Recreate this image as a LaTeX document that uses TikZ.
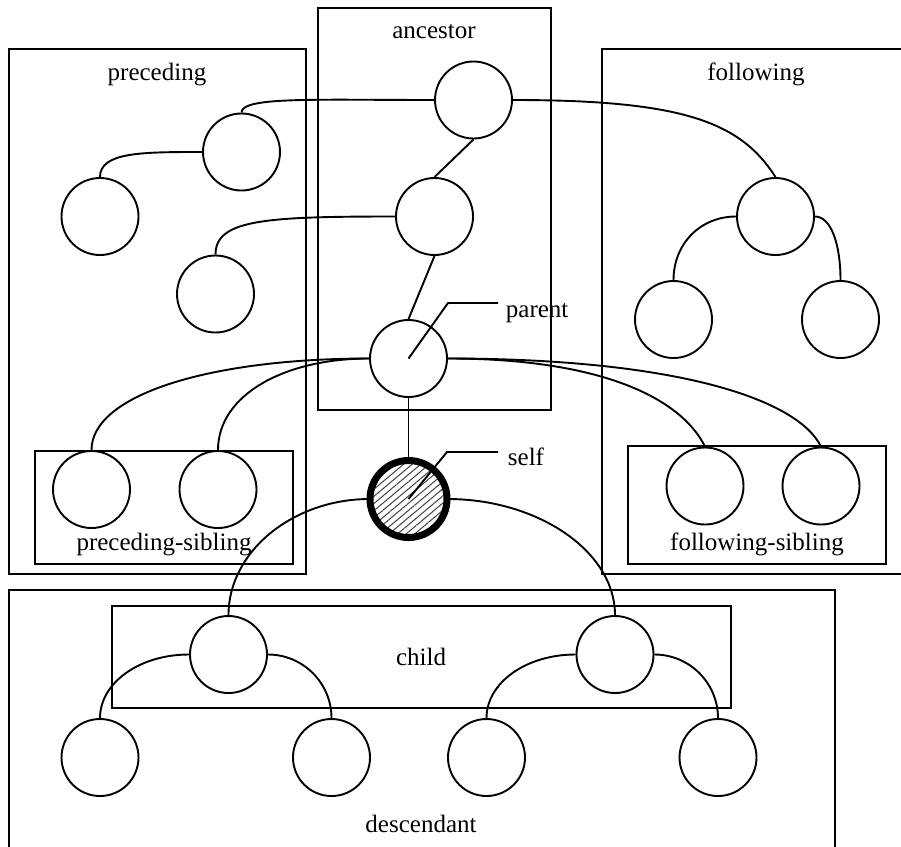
\documentclass[tikz,border=0pt]{standalone}
\usepackage{fontspec}
\setmainfont{Liberation Serif}
\usetikzlibrary{patterns.meta}
\begin{document}
\begin{tikzpicture}[x=1pt,y=-1pt,
  every path/.style={line width=1.9pt},
  tnode/.style={circle,draw,minimum size=77pt,inner sep=0pt,line width=1.9pt},
  selfnode/.style={circle,draw,minimum size=77pt,inner sep=0pt,line width=7pt,
     pattern={Lines[angle=40,distance=5.5pt,line width=1pt]},pattern color=black!75},
  lbl/.style={anchor=base,inner sep=0pt,font=\fontsize{25}{30}\selectfont},
  lblw/.style={anchor=base west,inner sep=0pt,font=\fontsize{25}{30}\selectfont},
  grp/.style={draw,line width=1.9pt}]
\useasboundingbox (0,0) rectangle (901,846);

% group boxes
\draw[grp] (9,49) rectangle (306,574);
\draw[grp] (318,8) rectangle (551,410);
\draw[grp] (910,49) -- (602,49) -- (602,574) -- (910,574);
\draw[grp] (35,451) rectangle (293,564);
\draw[grp] (628,446) rectangle (886,564);
\draw[grp] (9,860) -- (9,590) -- (835,590) -- (835,860);
\draw[grp] (112,606) rectangle (731,708);

% nodes
\node[tnode] (A1) at (473.5,100) {};
\node[tnode] (A2) at (434.5,216.5) {};
\node[tnode] (P) at (408.5,358.5) {};
\node[tnode] (Pr1) at (241.5,152) {};
\node[tnode] (Pr2) at (100,216.5) {};
\node[tnode] (Pr3) at (215.5,294) {};
\node[tnode] (F1) at (775.5,216.5) {};
\node[tnode] (F2) at (673.5,319.5) {};
\node[tnode] (F3) at (840.5,319.5) {};
\node[tnode] (PS1) at (91.5,489.5) {};
\node[tnode] (PS2) at (218,489.5) {};
\node[tnode] (FS1) at (705,486) {};
\node[tnode] (FS2) at (821,486) {};
\node[selfnode] (S) at (408.5,499) {};
\node[tnode] (C1) at (228.5,654.5) {};
\node[tnode] (C2) at (615,654.5) {};
\node[tnode] (D1) at (100,757.5) {};
\node[tnode] (D2) at (331.5,757.5) {};
\node[tnode] (D3) at (486.5,757.5) {};
\node[tnode] (D4) at (718,757.5) {};

% edges
\draw (Pr1.north) .. controls +(0,-16) and +(-120,0) .. (A1.west);
\draw (A1.east) .. controls +(170,0) and +(-35,-55) .. (F1.north);
\draw (A1.south) -- (A2.north);
\draw (A2.south) -- (P.north);
\draw (Pr3.north) .. controls +(0,-35) and +(-130,0) .. (A2.west);
\draw (Pr2.north) .. controls +(0,-25) and +(-60,0) .. (Pr1.west);
\draw (F1.west) .. controls +(-36,0) and +(0,-36) .. (F2.north);
\draw (F1.east) .. controls +(16,0) and +(0,-36) .. (F3.north);
\draw (P.west) .. controls +(-160,0) and +(0,-55) .. (PS1.north);
\draw (P.west) .. controls +(-85,0) and +(0,-55) .. (PS2.north);
\draw (P.east) .. controls +(150,0) and +(-25,-50) .. (FS1.north);
\draw (P.east) .. controls +(220,0) and +(-25,-50) .. (FS2.north);
\draw (P.south) -- (S.north);
\draw (S.west) .. controls +(-76,0) and +(0,-64) .. (C1.north);
\draw (S.east) .. controls +(90,0) and +(0,-64) .. (C2.north);
\draw (C1.west) .. controls +(-50,0) and +(0,-35) .. (D1.north);
\draw (C1.east) .. controls +(35,0) and +(0,-35) .. (D2.north);
\draw (C2.west) .. controls +(-50,0) and +(0,-35) .. (D3.north);
\draw (C2.east) .. controls +(35,0) and +(0,-35) .. (D4.north);

% leader lines
\coordinate (pk) at (448,303);
\coordinate (pe) at (498,303);
\coordinate (sk) at (447,452);
\coordinate (se) at (498,452);
\draw (P.center) -- (pk) -- (pe);
\draw (S.center) -- (sk) -- (se);

% labels
\node[lbl] (lanc) at (434,38) {ancestor};
\node[lbl] (lpre) at (157,80) {preceding};
\node[lbl] (lfol) at (756,80) {following};
\node[lblw] (lpar) at (505,317) {parent};
\node[lblw] (lself) at (507,465) {self};
\node[lbl] (lps) at (164,550) {preceding-sibling};
\node[lbl] (lfs) at (757,550) {following-sibling};
\node[lbl] (lch) at (421,665) {child};
\node[lbl] (ldes) at (421,832) {descendant};
\end{tikzpicture}
\end{document}
